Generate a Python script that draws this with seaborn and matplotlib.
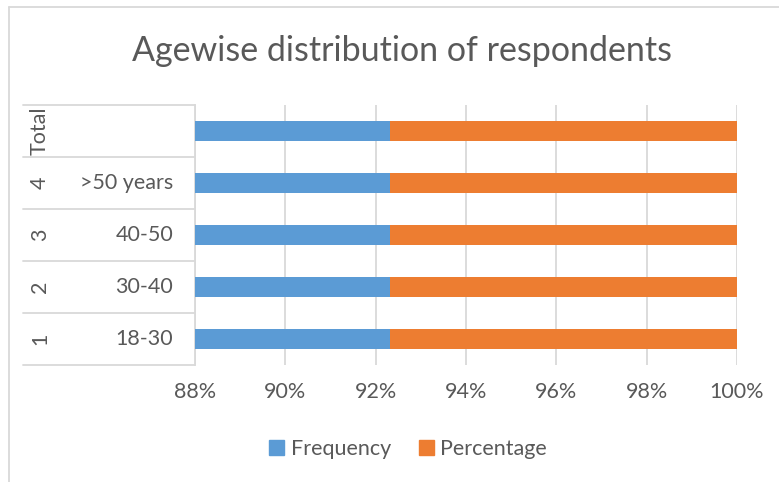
import matplotlib
matplotlib.use("Agg")
import matplotlib.pyplot as plt
import seaborn as sns
import pandas as pd
from matplotlib.lines import Line2D
from matplotlib.patches import Patch
from matplotlib.ticker import MultipleLocator, PercentFormatter

# Survey table: serial number, age group, count and share of respondents
groups = ["Total", "4", "3", "2", "1"]
age_groups = ["", ">50 years", "40-50", "30-40", "18-30"]
frequency = [1200, 132, 252, 444, 372]
percentage = [100, 11, 21, 37, 31]

BLUE = "#5B9BD5"
ORANGE = "#ED7D31"
TEXT = "#595959"
GRID = "#D9D9D9"
FS = 15.5

sns.set_theme(style="white")
plt.rcParams["font.family"] = ["Lato", "DejaVu Sans"]

df = pd.DataFrame({"group": groups, "age": age_groups,
                   "Frequency": frequency, "Percentage": percentage})
row_total = df["Frequency"] + df["Percentage"]
df["freq_share"] = df["Frequency"] / row_total
df["cum_share"] = (df["Frequency"] + df["Percentage"]) / row_total

W, H = 779, 482
fig = plt.figure(figsize=(W / 100, H / 100), dpi=100)
ax = fig.add_axes([195 / W, 1 - 365 / H, 542 / W, 260 / H])

# 100% stacked bars: the full bar (orange) first, the frequency share on top
sns.barplot(data=df, x="cum_share", y="group", order=groups, color=ORANGE,
            saturation=1, width=0.4, linewidth=0, ax=ax, zorder=2)
sns.barplot(data=df, x="freq_share", y="group", order=groups, color=BLUE,
            saturation=1, width=0.4, linewidth=0, ax=ax, zorder=3)

ax.set_xlim(0.88, 1.0)
ax.set_ylim(len(groups) - 0.5, -0.5)
ax.xaxis.set_major_locator(MultipleLocator(0.02))
ax.xaxis.set_major_formatter(PercentFormatter(1.0, decimals=0))
ax.grid(axis="x", color=GRID, lw=1.3, zorder=0)
ax.grid(axis="y", visible=False)
ax.set_axisbelow(True)
for side in ["top", "right", "bottom"]:
    ax.spines[side].set_visible(False)
ax.spines["left"].set_color(GRID)
ax.spines["left"].set_linewidth(1.3)
ax.tick_params(axis="x", length=0, pad=12, labelsize=FS, labelcolor=TEXT)
ax.tick_params(axis="y", length=0)
ax.set_yticklabels([])
ax.set_xlabel("")
ax.set_ylabel("")

# Two-level category table on the left of the plot
trans = ax.get_yaxis_transform()
table_left = (23 - 195) / 542
for b in range(len(groups) + 1):
    ax.plot([table_left, 0], [b - 0.5, b - 0.5], transform=trans,
            color=GRID, lw=1.3, clip_on=False)
for i, (g, a) in enumerate(zip(groups, age_groups)):
    ax.text((40 - 195) / 542, i, g, transform=trans, rotation=90,
            ha="center", va="center", fontsize=FS, color=TEXT)
    ax.text((173 - 195) / 542, i, a, transform=trans,
            ha="right", va="center", fontsize=FS, color=TEXT)

fig.text(402 / W, 1 - 51 / H, "Agewise distribution of respondents",
         ha="center", va="center", fontsize=24.5, color=TEXT)

handles = [Patch(color=BLUE, label="Frequency"),
           Patch(color=ORANGE, label="Percentage")]
fig.legend(handles=handles, loc="center", bbox_to_anchor=(408 / W, 1 - 449 / H),
           ncol=2, frameon=False, fontsize=FS, labelcolor=TEXT,
           handlelength=0.7, handleheight=0.7, handletextpad=0.3,
           columnspacing=1.3)

# Chart frame
fig.add_artist(Line2D([9 / W, 1], [1 - 7 / H, 1 - 7 / H], color=GRID, lw=1.3))
fig.add_artist(Line2D([9 / W, 9 / W], [0, 1 - 7 / H], color=GRID, lw=1.3))

fig.savefig("out.png", dpi=100, facecolor="white")
